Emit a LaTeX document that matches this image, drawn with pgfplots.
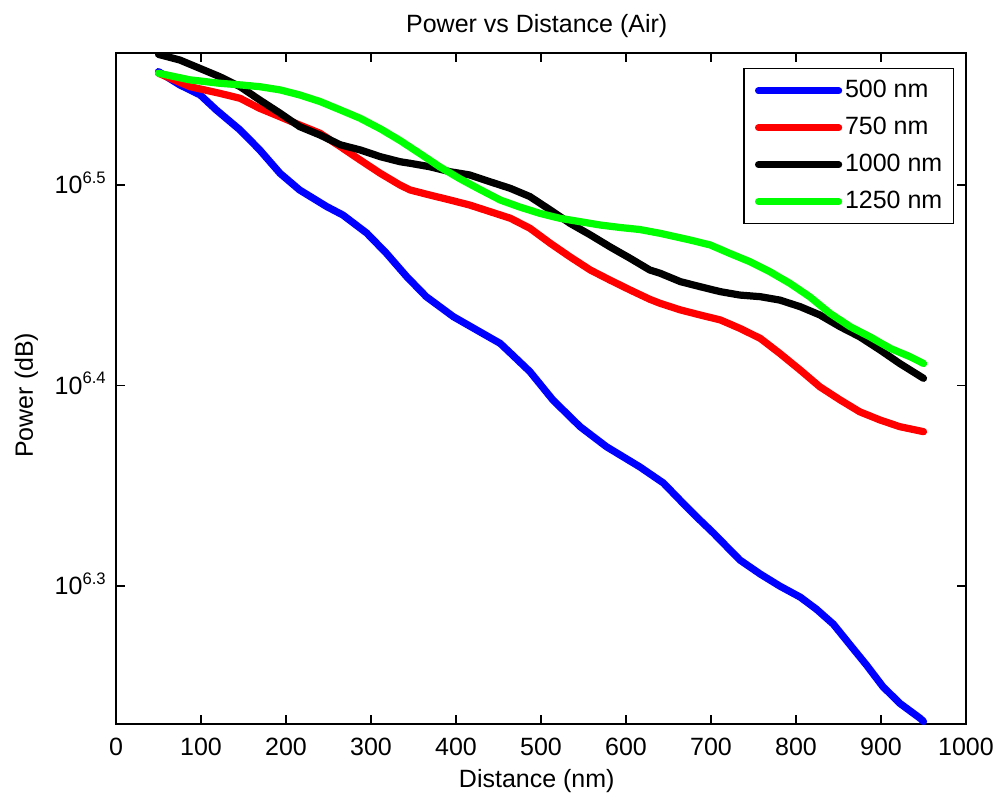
\documentclass[border=0pt]{standalone}
\usepackage{fontspec}
\setmainfont{Liberation Sans}
\usepackage{pgfplots}
\pgfplotsset{compat=1.18}
\definecolor{mblue}{RGB}{0,0,255}
\definecolor{mred}{RGB}{255,0,0}
\definecolor{mgreen}{RGB}{0,255,0}
\begin{document}
\fontsize{9}{11}\selectfont
\begin{tikzpicture}
\begin{axis}[
 name=ax,
 scale only axis,
 width=306pt, height=241.6pt,
 xmin=0, xmax=1000, ymin=6.2312, ymax=6.5658,
 xtick={0,100,...,1000},
 ytick={6.3,6.4,6.5},
 yticklabels={10\textsuperscript{6.3},10\textsuperscript{6.4},10\textsuperscript{6.5}},
 /pgf/number format/assume math mode=true,
 /pgf/number format/1000 sep={},
 tick align=inside,
 major tick length=3.2pt,
 axis line style={line width=0.6pt},
 every tick/.style={black, line width=0.6pt},
 tick label style={font=\fontsize{9}{11}\selectfont},
 xticklabel style={anchor=base, yshift=-11.2pt},
 yticklabel style={anchor=base east, yshift=-3.2pt},
 title={Power vs Distance (Air)},
 title style={at={(axis description cs:0.495,1)}, anchor=base, yshift=1.2pt, font=\fontsize{9}{11}\selectfont},
 xlabel={Distance (nm)},
 xlabel style={at={(axis description cs:0.495,0)}, anchor=base, yshift=-22.7pt, font=\fontsize{9}{11}\selectfont},
 ylabel={Power (dB)},
 ylabel style={at={(axis description cs:-0.0977,0.49)}, anchor=base, rotate=0, font=\fontsize{9}{11}\selectfont},
 legend style={at={(0.986,0.9776)}, anchor=north east, draw=black, line width=0.5pt,
   font=\fontsize{9}{11}\selectfont, inner xsep=4pt, inner ysep=3.7pt,
   nodes={inner sep=0pt, text height=6.6pt, text depth=1.9pt},
   row sep=4.8pt, column sep=1pt, cells={anchor=west}},
 legend image code/.code={\draw[#1, line width=2.4pt] (0pt,0pt) -- (29pt,0pt);},
 every axis plot/.append style={line width=2.6pt, line join=round, line cap=round},
]
\addplot[mblue] coordinates {
(50,6.5565)(75,6.5499)(99,6.5449)(118,6.5374)(146,6.5274)(169,6.5175)(193,6.5058)
(216,6.4975)(248,6.4892)(267,6.4850)(295,6.4760)(318,6.4660)(342,6.4543)(365,6.4443)
(397,6.4343)(428,6.4268)(452,6.4210)(464,6.4162)(487,6.4069)(514,6.3928)(546,6.3795)
(577,6.3695)(616,6.3595)(644,6.3514)(671,6.3396)(687,6.3329)(703,6.3264)(718,6.3199)
(734,6.3130)(758,6.3060)(781,6.3000)(805,6.2945)(824,6.2885)(844,6.2810)(864,6.2705)
(883,6.2606)(902,6.2500)(922,6.2416)(946,6.2341)(950,6.2325)};
\addlegendentry{500 nm}
\addplot[mred] coordinates {
(50,6.5557)(87,6.5490)(122,6.5457)(146,6.5432)(169,6.5382)(193,6.5340)(216,6.5299)
(240,6.5258)(264,6.5191)(287,6.5125)(311,6.5058)(334,6.5000)(346,6.4975)(369,6.4950)
(393,6.4925)(416,6.4900)(440,6.4867)(464,6.4834)(487,6.4784)(511,6.4709)(534,6.4642)
(558,6.4576)(581,6.4526)(605,6.4476)(628,6.4430)(640,6.4410)(664,6.4377)(687,6.4352)
(711,6.4327)(734,6.4285)(758,6.4235)(781,6.4160)(805,6.4077)(828,6.3994)(852,6.3928)
(875,6.3869)(899,6.3828)(922,6.3795)(950,6.3770)};
\addlegendentry{750 nm}
\addplot[black] coordinates {
(50,6.5651)(75,6.5623)(122,6.5540)(146,6.5490)(169,6.5424)(193,6.5358)(216,6.5291)
(240,6.5249)(264,6.5200)(287,6.5175)(311,6.5141)(334,6.5116)(346,6.5108)(369,6.5091)
(393,6.5066)(416,6.5050)(440,6.5016)(464,6.4983)(487,6.4942)(511,6.4875)(534,6.4809)
(558,6.4751)(581,6.4692)(605,6.4634)(628,6.4576)(640,6.4560)(664,6.4518)(687,6.4493)
(711,6.4468)(734,6.4451)(758,6.4443)(781,6.4426)(805,6.4393)(828,6.4352)(852,6.4293)
(875,6.4243)(899,6.4177)(922,6.4110)(950,6.4036)};
\addlegendentry{1000 nm}
\addplot[mgreen] coordinates {
(50,6.5557)(87,6.5524)(122,6.5507)(146,6.5499)(169,6.5490)(193,6.5474)(216,6.5449)
(240,6.5416)(264,6.5374)(287,6.5333)(311,6.5280)(334,6.5222)(357,6.5158)(381,6.5090)
(405,6.5030)(428,6.4978)(452,6.4925)(475,6.4890)(499,6.4858)(522,6.4834)(546,6.4817)
(570,6.4800)(593,6.4788)(616,6.4778)(640,6.4759)(675,6.4726)(699,6.4701)
(722,6.4659)(746,6.4617)(769,6.4568)(793,6.4509)(816,6.4443)(840,6.4360)(864,6.4293)
(887,6.4243)(911,6.4185)(934,6.4144)(950,6.4110)};
\addlegendentry{1250 nm}
\end{axis}
\pgfresetboundingbox
\path ([xshift=-41.76pt,yshift=-25.2pt]ax.south west) rectangle ([xshift=11.16pt,yshift=19.08pt]ax.north east);
\end{tikzpicture}
\end{document}
